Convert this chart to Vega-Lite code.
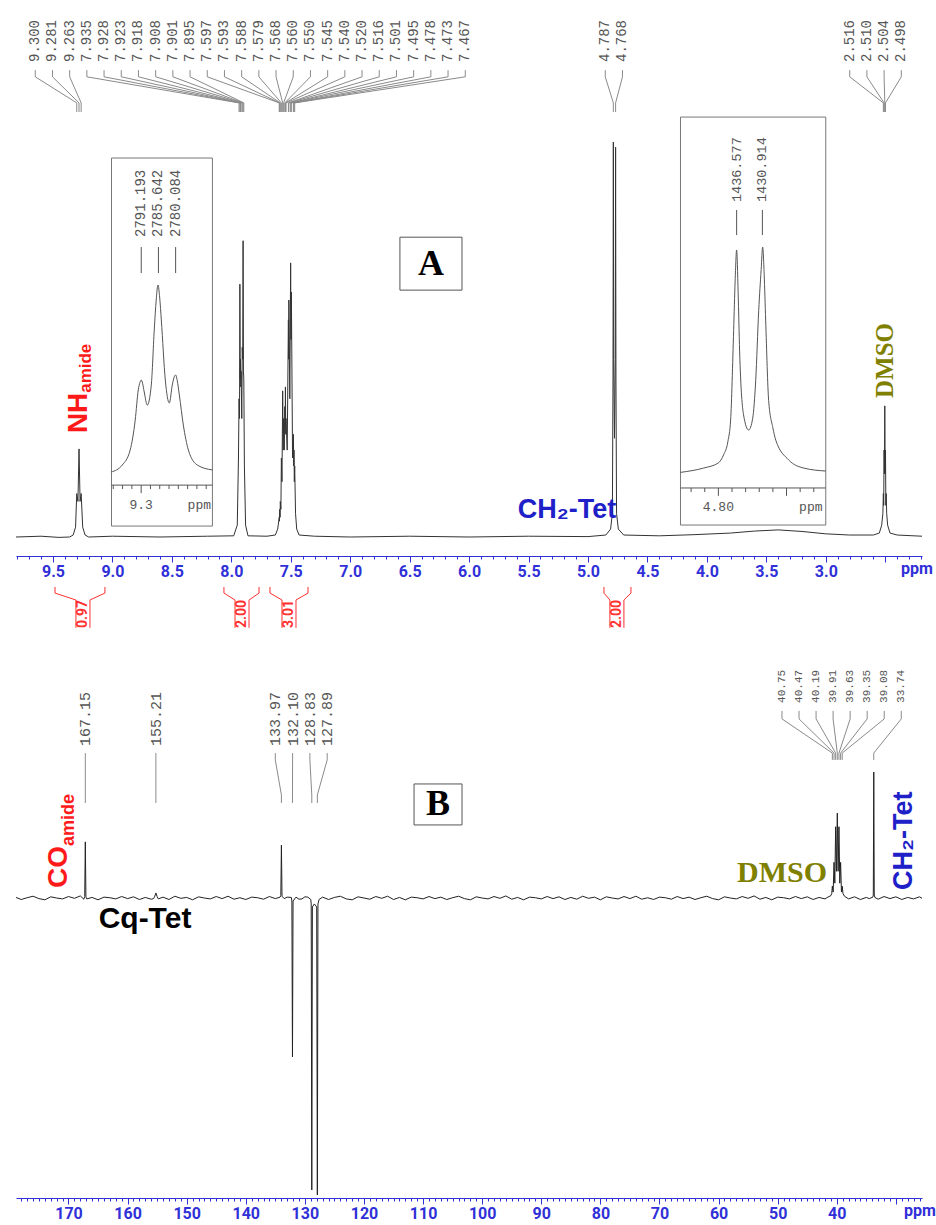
{
"$schema": "https://vega.github.io/schema/vega-lite/v6.json",
"padding": {"left": 14, "top": 0, "right": 16, "bottom": 0},
"background": "white",
"config": {"view": {"stroke": null}},
"spacing": 84,
"bounds": "flush",
"datasets": {
"specA": [
{"ppm":9.811,"i":0},{"ppm":9.6,"i":0.2},{"ppm":9.45,"i":-0.1},{"ppm":9.36,"i":0},{"ppm":9.33,"i":0.5},{"ppm":9.31,"i":2.5},{"ppm":9.300,"i":11},{"ppm":9.290,"i":9},{"ppm":9.281,"i":22.3},{"ppm":9.272,"i":9},{"ppm":9.263,"i":11},{"ppm":9.25,"i":2.5},{"ppm":9.23,"i":0.5},{"ppm":9.2,"i":0},{"ppm":9.0,"i":0.2},{"ppm":8.6,"i":0},{"ppm":8.2,"i":0.2},{"ppm":7.98,"i":0.3},{"ppm":7.95,"i":3},{"ppm":7.94,"i":20},{"ppm":7.935,"i":35},{"ppm":7.931,"i":30},{"ppm":7.928,"i":64},{"ppm":7.925,"i":40},{"ppm":7.923,"i":45},{"ppm":7.920,"i":38},{"ppm":7.918,"i":42},{"ppm":7.912,"i":30},{"ppm":7.908,"i":48},{"ppm":7.904,"i":45},{"ppm":7.901,"i":75},{"ppm":7.898,"i":42},{"ppm":7.895,"i":40},{"ppm":7.89,"i":18},{"ppm":7.88,"i":3},{"ppm":7.86,"i":0.3},{"ppm":7.7,"i":0.2},{"ppm":7.63,"i":0.5},{"ppm":7.61,"i":2},{"ppm":7.597,"i":5},{"ppm":7.595,"i":4},{"ppm":7.593,"i":7},{"ppm":7.590,"i":5},{"ppm":7.588,"i":9},{"ppm":7.583,"i":7},{"ppm":7.579,"i":20},{"ppm":7.574,"i":14},{"ppm":7.568,"i":37},{"ppm":7.564,"i":22},{"ppm":7.560,"i":30},{"ppm":7.555,"i":22},{"ppm":7.550,"i":33},{"ppm":7.547,"i":28},{"ppm":7.545,"i":38},{"ppm":7.542,"i":26},{"ppm":7.540,"i":30},{"ppm":7.530,"i":22},{"ppm":7.520,"i":55},{"ppm":7.518,"i":45},{"ppm":7.516,"i":60},{"ppm":7.508,"i":35},{"ppm":7.501,"i":69.4},{"ppm":7.498,"i":50},{"ppm":7.495,"i":62},{"ppm":7.485,"i":20},{"ppm":7.478,"i":26},{"ppm":7.475,"i":18},{"ppm":7.473,"i":22},{"ppm":7.470,"i":14},{"ppm":7.467,"i":18},{"ppm":7.46,"i":6},{"ppm":7.45,"i":2},{"ppm":7.43,"i":0.5},{"ppm":7.3,"i":0.2},{"ppm":7.0,"i":0},{"ppm":6.5,"i":0.2},{"ppm":6.0,"i":0},{"ppm":5.5,"i":0.2},{"ppm":5.0,"i":0.1},{"ppm":4.85,"i":0.5},{"ppm":4.81,"i":2},{"ppm":4.795,"i":6},{"ppm":4.790,"i":40},{"ppm":4.787,"i":100},{"ppm":4.784,"i":45},{"ppm":4.7775,"i":25},{"ppm":4.771,"i":45},{"ppm":4.768,"i":98.7},{"ppm":4.765,"i":40},{"ppm":4.760,"i":6},{"ppm":4.745,"i":2},{"ppm":4.7,"i":0.5},{"ppm":4.4,"i":0.3},{"ppm":4.1,"i":0.6},{"ppm":3.8,"i":1.0},{"ppm":3.6,"i":1.5},{"ppm":3.4,"i":1.8},{"ppm":3.2,"i":1.4},{"ppm":3.0,"i":0.8},{"ppm":2.8,"i":0.5},{"ppm":2.6,"i":0.5},{"ppm":2.55,"i":1},{"ppm":2.53,"i":3},{"ppm":2.520,"i":6},{"ppm":2.516,"i":11},{"ppm":2.513,"i":8},{"ppm":2.510,"i":22},{"ppm":2.507,"i":16},{"ppm":2.504,"i":33.2},{"ppm":2.501,"i":16},{"ppm":2.498,"i":22},{"ppm":2.495,"i":8},{"ppm":2.492,"i":11},{"ppm":2.488,"i":6},{"ppm":2.48,"i":3},{"ppm":2.46,"i":1},{"ppm":2.4,"i":0.5},{"ppm":2.191,"i":0.2}
],
"peaksA": [
{"ppm":9.300,"g":1},{"ppm":9.281,"g":1},{"ppm":9.263,"g":1},{"ppm":7.935,"g":1},{"ppm":7.928,"g":1},{"ppm":7.923,"g":1},{"ppm":7.918,"g":1},{"ppm":7.908,"g":1},{"ppm":7.901,"g":1},{"ppm":7.895,"g":1},{"ppm":7.597,"g":1},{"ppm":7.593,"g":1},{"ppm":7.588,"g":1},{"ppm":7.579,"g":1},{"ppm":7.568,"g":1},{"ppm":7.560,"g":1},{"ppm":7.550,"g":1},{"ppm":7.545,"g":1},{"ppm":7.540,"g":1},{"ppm":7.520,"g":1},{"ppm":7.516,"g":1},{"ppm":7.501,"g":1},{"ppm":7.495,"g":1},{"ppm":7.478,"g":1},{"ppm":7.473,"g":1},{"ppm":7.467,"g":1},
{"ppm":4.787,"g":2},{"ppm":4.768,"g":2},
{"ppm":2.516,"g":3},{"ppm":2.510,"g":3},{"ppm":2.504,"g":3},{"ppm":2.498,"g":3}
],
"intA": [
{"a":9.483,"b":9.063,"c":9.248,"v":"0.97"},
{"a":8.062,"b":7.767,"c":7.910,"v":"2.00"},
{"a":7.675,"b":7.355,"c":7.515,"v":"3.01"},
{"a":4.866,"b":4.639,"c":4.757,"v":"2.00"}
],
"insetL": [
{"ppm":9.3323,"i":0},{"ppm":9.3204,"i":3.7},{"ppm":9.3118,"i":11.8},{"ppm":9.3064,"i":27.8},{"ppm":9.3031,"i":43.9},{"ppm":9.3012,"i":48},{"ppm":9.2999,"i":49.2},{"ppm":9.2985,"i":47.5},{"ppm":9.2967,"i":42.8},{"ppm":9.2934,"i":35.8},{"ppm":9.2891,"i":46.5},{"ppm":9.2859,"i":75.9},{"ppm":9.2838,"i":92},{"ppm":9.2819,"i":100},{"ppm":9.2800,"i":93},{"ppm":9.2783,"i":81.3},{"ppm":9.2740,"i":49.2},{"ppm":9.2697,"i":36.9},{"ppm":9.2665,"i":46.5},{"ppm":9.2643,"i":51},{"ppm":9.2629,"i":51.9},{"ppm":9.2612,"i":49},{"ppm":9.2589,"i":41.2},{"ppm":9.2546,"i":25.1},{"ppm":9.2492,"i":11.8},{"ppm":9.2395,"i":3.7},{"ppm":9.2233,"i":1.1}
],
"insetR": [
{"ppm":4.8278,"i":0.3},{"ppm":4.8109,"i":2.2},{"ppm":4.800,"i":4.5},{"ppm":4.7962,"i":8},{"ppm":4.7930,"i":14},{"ppm":4.7910,"i":23.5},{"ppm":4.7888,"i":63},{"ppm":4.7877,"i":85},{"ppm":4.7866,"i":98.7},{"ppm":4.7855,"i":80},{"ppm":4.7844,"i":54},{"ppm":4.7815,"i":25.7},{"ppm":4.7778,"i":19},{"ppm":4.7748,"i":24.3},{"ppm":4.7726,"i":41},{"ppm":4.7704,"i":72},{"ppm":4.7686,"i":90},{"ppm":4.7675,"i":100},{"ppm":4.7664,"i":88},{"ppm":4.7653,"i":67.7},{"ppm":4.7631,"i":32},{"ppm":4.7600,"i":20},{"ppm":4.7579,"i":14.6},{"ppm":4.7484,"i":5.8},{"ppm":4.7373,"i":2.2},{"ppm":4.7212,"i":0.9}
],
"pkL": [{"hz":"2791.193","ppm":9.2999},{"hz":"2785.642","ppm":9.2814},{"hz":"2780.084","ppm":9.2629}],
"pkR": [{"hz":"1436.577","ppm":4.7866},{"hz":"1430.914","ppm":4.7677}],
"ticksL": [{"ppm":9.33,"major":false},{"ppm":9.32,"major":false},{"ppm":9.31,"major":false},{"ppm":9.30,"major":true},{"ppm":9.29,"major":false},{"ppm":9.28,"major":false},{"ppm":9.27,"major":false},{"ppm":9.26,"major":false},{"ppm":9.25,"major":false},{"ppm":9.24,"major":false},{"ppm":9.23,"major":false}],
"ticksR": [{"ppm":4.82,"major":false},{"ppm":4.81,"major":false},{"ppm":4.80,"major":true},{"ppm":4.79,"major":false},{"ppm":4.78,"major":false},{"ppm":4.77,"major":false},{"ppm":4.76,"major":false},{"ppm":4.75,"major":true},{"ppm":4.74,"major":false},{"ppm":4.73,"major":false}],
"specB": [
{"ppm":178.88,"i":0.2},{"ppm":178,"i":-0.5},{"ppm":177,"i":0.1},{"ppm":176,"i":0.6},{"ppm":175,"i":-0.2},{"ppm":174,"i":-0.6},{"ppm":173,"i":0.4},{"ppm":172,"i":0.0},{"ppm":171,"i":-0.3},{"ppm":170,"i":0.5},{"ppm":169,"i":-0.1},{"ppm":168,"i":0.7},{"ppm":167.4,"i":-0.4},{"ppm":167.25,"i":0.5},{"ppm":167.15,"i":18.9},{"ppm":167.05,"i":0.4},{"ppm":166.9,"i":-0.3},{"ppm":166,"i":0.2},{"ppm":165,"i":-0.6},{"ppm":164,"i":0.3},{"ppm":163,"i":0.1},{"ppm":162,"i":-0.3},{"ppm":161,"i":0.5},{"ppm":160,"i":-0.2},{"ppm":159,"i":0.4},{"ppm":158,"i":-0.5},{"ppm":157,"i":0.2},{"ppm":156,"i":-0.4},{"ppm":155.6,"i":-0.2},{"ppm":155.4,"i":0.6},{"ppm":155.21,"i":1.7},{"ppm":155.0,"i":0.5},{"ppm":154.8,"i":-0.3},{"ppm":154,"i":0.3},{"ppm":153,"i":-0.5},{"ppm":152,"i":0.6},{"ppm":151,"i":-0.1},{"ppm":150,"i":0.2},{"ppm":149,"i":-0.6},{"ppm":148,"i":0.4},{"ppm":147,"i":0.0},{"ppm":146,"i":-0.3},{"ppm":145,"i":0.5},{"ppm":144,"i":-0.2},{"ppm":143,"i":0.6},{"ppm":142,"i":-0.4},{"ppm":141,"i":0.1},{"ppm":140,"i":-0.5},{"ppm":139,"i":0.3},{"ppm":138,"i":0.1},{"ppm":137,"i":-0.4},{"ppm":136,"i":0.5},{"ppm":135,"i":-0.2},{"ppm":134.2,"i":0.3},{"ppm":134.07,"i":0.8},{"ppm":133.97,"i":17.8},{"ppm":133.87,"i":0.6},{"ppm":133.5,"i":-0.2},{"ppm":133,"i":0.3},{"ppm":132.3,"i":0.2},{"ppm":132.2,"i":-1},{"ppm":132.10,"i":-53.5},{"ppm":132.0,"i":-1},{"ppm":131.5,"i":0.3},{"ppm":131,"i":-0.4},{"ppm":130.5,"i":-0.3},{"ppm":130,"i":0.4},{"ppm":129.5,"i":0.3},{"ppm":129.0,"i":-0.5},{"ppm":128.93,"i":-2},{"ppm":128.83,"i":-98.3},{"ppm":128.73,"i":-3},{"ppm":128.4,"i":-2},{"ppm":128.0,"i":-3},{"ppm":127.89,"i":-100},{"ppm":127.79,"i":-2},{"ppm":127.6,"i":-0.5},{"ppm":127,"i":0.3},{"ppm":126,"i":-0.5},{"ppm":125,"i":0.2},{"ppm":124,"i":0.6},{"ppm":123,"i":-0.3},{"ppm":122,"i":-0.6},{"ppm":121,"i":0.4},{"ppm":120,"i":0.0},{"ppm":119,"i":-0.4},{"ppm":118,"i":0.5},{"ppm":117,"i":-0.1},{"ppm":116,"i":0.6},{"ppm":115,"i":-0.5},{"ppm":114,"i":0.2},{"ppm":113,"i":-0.6},{"ppm":112,"i":0.3},{"ppm":111,"i":0.1},{"ppm":110,"i":-0.3},{"ppm":109,"i":0.5},{"ppm":108,"i":-0.2},{"ppm":107,"i":0.3},{"ppm":106,"i":-0.5},{"ppm":105,"i":0.1},{"ppm":104,"i":0.6},{"ppm":103,"i":-0.2},{"ppm":102,"i":-0.6},{"ppm":101,"i":0.4},{"ppm":100,"i":0.0},{"ppm":99,"i":-0.3},{"ppm":98,"i":0.5},{"ppm":97,"i":-0.1},{"ppm":96,"i":0.7},{"ppm":95,"i":-0.4},{"ppm":94,"i":0.2},{"ppm":93,"i":-0.6},{"ppm":92,"i":0.3},{"ppm":91,"i":0.1},{"ppm":90,"i":-0.3},{"ppm":89,"i":0.5},{"ppm":88,"i":-0.2},{"ppm":87,"i":0.4},{"ppm":86,"i":-0.5},{"ppm":85,"i":0.2},{"ppm":84,"i":-0.4},{"ppm":83,"i":0.6},{"ppm":82,"i":-0.1},{"ppm":81,"i":0.3},{"ppm":80,"i":-0.6},{"ppm":79,"i":0.4},{"ppm":78,"i":0.0},{"ppm":77,"i":-0.3},{"ppm":76,"i":0.5},{"ppm":75,"i":-0.2},{"ppm":74,"i":0.6},{"ppm":73,"i":-0.4},{"ppm":72,"i":0.1},{"ppm":71,"i":-0.5},{"ppm":70,"i":0.3},{"ppm":69,"i":0.1},{"ppm":68,"i":-0.4},{"ppm":67,"i":0.5},{"ppm":66,"i":-0.2},{"ppm":65,"i":0.3},{"ppm":64,"i":-0.5},{"ppm":63,"i":0.1},{"ppm":62,"i":0.6},{"ppm":61,"i":-0.2},{"ppm":60,"i":-0.6},{"ppm":59,"i":0.4},{"ppm":58,"i":0.0},{"ppm":57,"i":-0.3},{"ppm":56,"i":0.5},{"ppm":55,"i":-0.1},{"ppm":54,"i":0.7},{"ppm":53,"i":-0.4},{"ppm":52,"i":0.2},{"ppm":51,"i":-0.6},{"ppm":50,"i":0.3},{"ppm":49,"i":0.1},{"ppm":48,"i":-0.3},{"ppm":47,"i":0.5},{"ppm":46,"i":-0.2},{"ppm":45,"i":0.4},{"ppm":44,"i":-0.5},{"ppm":43,"i":0.2},{"ppm":42,"i":-0.3},{"ppm":41.5,"i":0.3},{"ppm":41.0,"i":0.8},{"ppm":40.85,"i":1.5},{"ppm":40.75,"i":4},{"ppm":40.61,"i":2},{"ppm":40.47,"i":12},{"ppm":40.33,"i":5},{"ppm":40.19,"i":24},{"ppm":40.05,"i":9},{"ppm":39.91,"i":28.6},{"ppm":39.77,"i":9},{"ppm":39.63,"i":24},{"ppm":39.49,"i":5},{"ppm":39.35,"i":12},{"ppm":39.21,"i":2},{"ppm":39.08,"i":4},{"ppm":38.95,"i":1.5},{"ppm":38.7,"i":0.6},{"ppm":38,"i":-0.3},{"ppm":37,"i":0.4},{"ppm":36,"i":-0.5},{"ppm":35,"i":0.2},{"ppm":34.5,"i":-0.2},{"ppm":33.9,"i":0.3},{"ppm":33.82,"i":1},{"ppm":33.74,"i":42.4},{"ppm":33.66,"i":1},{"ppm":33.55,"i":0.2},{"ppm":33,"i":-0.4},{"ppm":32,"i":0.5},{"ppm":31,"i":-0.2},{"ppm":30,"i":0.4},{"ppm":29,"i":-0.5},{"ppm":28,"i":0.2},{"ppm":27,"i":-0.3},{"ppm":26,"i":0.4},{"ppm":25.58,"i":-0.1}
],
"peaksB": [
{"ppm":167.15,"g":4},{"ppm":155.21,"g":5},
{"ppm":133.97,"g":6},{"ppm":132.10,"g":6},{"ppm":128.83,"g":6},{"ppm":127.89,"g":6},
{"ppm":40.75,"g":7},{"ppm":40.47,"g":7},{"ppm":40.19,"g":7},{"ppm":39.91,"g":7},{"ppm":39.63,"g":7},{"ppm":39.35,"g":7},{"ppm":39.08,"g":7},{"ppm":33.74,"g":7}
]
},
"vconcat": [
{
"width": 906, "height": 556,
"resolve": {"scale": {"x": "independent", "y": "independent"}, "axis": {"x": "independent", "y": "independent"}},
"layer": [
{
"layer": [
{"data": {"name": "specA"}, "mark": {"type": "line", "stroke": "#333333", "strokeWidth": 1},
 "encoding": {
  "x": {"field": "ppm", "type": "quantitative", "scale": {"domain": [2.191, 9.811], "reverse": true, "nice": false, "zero": false},
   "axis": {"orient": "bottom", "values": [9.5,9,8.5,8,7.5,7,6.5,6,5.5,5,4.5,4,3.5,3,2.5], "labelExpr": "datum.value < 2.75 ? '' : format(datum.value, '.1f')", "title": null, "grid": false, "domainColor": "#3030d8", "tickColor": "#3030d8", "tickSize": 6, "labelColor": "#3030d8", "labelFont": "Liberation Sans Narrow, Roboto, sans-serif", "labelFontSize": 16, "labelFontWeight": "bold", "labelPadding": 1, "labelFlush": false, "labelOverlap": false}},
  "y": {"field": "i", "type": "quantitative", "scale": {"domain": [-4.81, 135.95], "nice": false, "zero": false}, "axis": null}
 }},
{"data": {"name": "peaksA"},
 "transform": [
  {"window": [{"op": "row_number", "as": "rn"}], "groupby": ["g"], "sort": [{"field": "ppm", "order": "descending"}]},
  {"calculate": "(datum.g == 1 ? 9.649 : datum.g == 2 ? 4.855 : 2.799) - (datum.rn - 1) * 0.14466", "as": "lx"},
  {"calculate": "118.2", "as": "l1"}, {"calculate": "116.5", "as": "l2"}, {"calculate": "109.9", "as": "l3"}, {"calculate": "107.6", "as": "l4"}, {"calculate": "120.25", "as": "t0"}
 ],
 "layer": [
  {"mark": {"type": "rule", "stroke": "#8a8a8a", "strokeWidth": 1},
   "encoding": {"x": {"field": "lx", "type": "quantitative"}, "y": {"field": "l1", "type": "quantitative", "axis": null}, "y2": {"field": "l2"}}},
  {"mark": {"type": "rule", "stroke": "#8a8a8a", "strokeWidth": 1},
   "encoding": {"x": {"field": "lx", "type": "quantitative"}, "x2": {"field": "ppm"}, "y": {"field": "l2", "type": "quantitative", "axis": null}, "y2": {"field": "l3"}}},
  {"mark": {"type": "rule", "stroke": "#8a8a8a", "strokeWidth": 1},
   "encoding": {"x": {"field": "ppm", "type": "quantitative"}, "y": {"field": "l3", "type": "quantitative", "axis": null}, "y2": {"field": "l4"}}},
  {"mark": {"type": "text", "angle": 270, "align": "left", "baseline": "middle", "font": "Liberation Mono", "fontSize": 14, "color": "#555555"},
   "encoding": {"x": {"field": "lx", "type": "quantitative"}, "y": {"field": "t0", "type": "quantitative", "axis": null},
    "text": {"field": "ppm", "type": "quantitative", "format": ".3f"}}}
 ]},
{"data": {"name": "intA"},
 "transform": [{"calculate": "datum.c + 0.0589", "as": "cl"}, {"calculate": "datum.c - 0.0589", "as": "cr"},
  {"calculate": "-12.66", "as": "y1"}, {"calculate": "-14.2", "as": "y2"}, {"calculate": "-15.95", "as": "y3"}, {"calculate": "-23.0", "as": "y4"}, {"calculate": "-19.5", "as": "ty"}],
 "layer": [
  {"mark": {"type": "rule", "stroke": "#ff3030", "strokeWidth": 1},
   "encoding": {"x": {"field": "a", "type": "quantitative"}, "y": {"field": "y1", "type": "quantitative", "axis": null}, "y2": {"field": "y2"}}},
  {"mark": {"type": "rule", "stroke": "#ff3030", "strokeWidth": 1},
   "encoding": {"x": {"field": "b", "type": "quantitative"}, "y": {"field": "y1", "type": "quantitative", "axis": null}, "y2": {"field": "y2"}}},
  {"mark": {"type": "rule", "stroke": "#ff3030", "strokeWidth": 1},
   "encoding": {"x": {"field": "a", "type": "quantitative"}, "x2": {"field": "cl"}, "y": {"field": "y2", "type": "quantitative", "axis": null}, "y2": {"field": "y3"}}},
  {"mark": {"type": "rule", "stroke": "#ff3030", "strokeWidth": 1},
   "encoding": {"x": {"field": "b", "type": "quantitative"}, "x2": {"field": "cr"}, "y": {"field": "y2", "type": "quantitative", "axis": null}, "y2": {"field": "y3"}}},
  {"mark": {"type": "rule", "stroke": "#ff3030", "strokeWidth": 1},
   "encoding": {"x": {"field": "cl", "type": "quantitative"}, "y": {"field": "y3", "type": "quantitative", "axis": null}, "y2": {"field": "y4"}}},
  {"mark": {"type": "rule", "stroke": "#ff3030", "strokeWidth": 1},
   "encoding": {"x": {"field": "cr", "type": "quantitative"}, "y": {"field": "y3", "type": "quantitative", "axis": null}, "y2": {"field": "y4"}}},
  {"mark": {"type": "text", "angle": 270, "align": "center", "baseline": "middle", "font": "Liberation Sans Narrow, Roboto, sans-serif", "fontSize": 14, "fontWeight": "bold", "color": "#ff3030"},
   "encoding": {"x": {"field": "c", "type": "quantitative"}, "y": {"field": "ty", "type": "quantitative", "axis": null}, "text": {"field": "v"}}}
 ]},
{"data": {"values": [{"t": "NH"}]}, "transform": [{"calculate": "9.281", "as": "px"}, {"calculate": "26.3", "as": "py"}],
 "mark": {"type": "text", "angle": 270, "align": "left", "baseline": "middle", "font": "Liberation Sans", "fontSize": 28, "fontWeight": "bold", "color": "#ff1a1a"},
 "encoding": {"text": {"field": "t"}, "x": {"field": "px", "type": "quantitative"}, "y": {"field": "py", "type": "quantitative", "axis": null}}},
{"data": {"values": [{"t": "amide"}]}, "transform": [{"calculate": "9.222", "as": "px"}, {"calculate": "36.5", "as": "py"}],
 "mark": {"type": "text", "angle": 270, "align": "left", "baseline": "middle", "font": "Liberation Sans", "fontSize": 17, "fontWeight": "bold", "color": "#ff1a1a"},
 "encoding": {"text": {"field": "t"}, "x": {"field": "px", "type": "quantitative"}, "y": {"field": "py", "type": "quantitative", "axis": null}}},
{"data": {"values": [{"t": "CH₂-Tet"}]}, "transform": [{"calculate": "5.177", "as": "px"}, {"calculate": "6.8", "as": "py"}],
 "mark": {"type": "text", "align": "center", "baseline": "middle", "font": "Liberation Sans", "fontSize": 27, "fontWeight": "bold", "color": "#2020c8"},
 "encoding": {"text": {"field": "t"}, "x": {"field": "px", "type": "quantitative"}, "y": {"field": "py", "type": "quantitative", "axis": null}}},
{"data": {"values": [{"t": "DMSO"}]}, "transform": [{"calculate": "2.505", "as": "px"}, {"calculate": "35.2", "as": "py"}],
 "mark": {"type": "text", "angle": 270, "align": "left", "baseline": "middle", "font": "Liberation Serif", "fontSize": 25, "fontWeight": "bold", "color": "#808000"},
 "encoding": {"text": {"field": "t"}, "x": {"field": "px", "type": "quantitative"}, "y": {"field": "py", "type": "quantitative", "axis": null}}},
{"data": {"values": [{"t": "A"}]}, "transform": [{"calculate": "6.582", "as": "px"}, {"calculate": "6.060", "as": "px2"}, {"calculate": "75.9", "as": "py"}, {"calculate": "62.5", "as": "py2"}],
 "mark": {"type": "rect", "fill": "white", "stroke": "#555555", "strokeWidth": 1},
 "encoding": {"x": {"field": "px", "type": "quantitative"}, "x2": {"field": "px2"}, "y": {"field": "py", "type": "quantitative", "axis": null}, "y2": {"field": "py2"}}},
{"data": {"values": [{"t": "A"}]}, "transform": [{"calculate": "6.321", "as": "px"}, {"calculate": "69.2", "as": "py"}],
 "mark": {"type": "text", "align": "center", "baseline": "middle", "font": "Liberation Serif", "fontSize": 36, "fontWeight": "bold", "color": "#000000"},
 "encoding": {"text": {"field": "t"}, "x": {"field": "px", "type": "quantitative"}, "y": {"field": "py", "type": "quantitative", "axis": null}}}
]
},
{"data": {"values": [{"t": "ppm"}]}, "transform": [{"calculate": "2.233", "as": "px"}, {"calculate": "-8.0", "as": "py"}],
 "mark": {"type": "text", "font": "Liberation Sans Narrow, Roboto, sans-serif", "fontSize": 16, "fontWeight": "bold", "color": "#3030d8", "baseline": "middle", "align": "center"},
 "encoding": {
  "text": {"field": "t"},
  "x": {"field": "px", "type": "quantitative", "scale": {"domain": [2.191, 9.811], "reverse": true, "nice": false, "zero": false},
   "axis": {"orient": "bottom", "values": [9.8,9.7,9.6,9.5,9.4,9.3,9.2,9.1,9.0,8.9,8.8,8.7,8.6,8.5,8.4,8.3,8.2,8.1,8.0,7.9,7.8,7.7,7.6,7.5,7.4,7.3,7.2,7.1,7.0,6.9,6.8,6.7,6.6,6.5,6.4,6.3,6.2,6.1,6.0,5.9,5.8,5.7,5.6,5.5,5.4,5.3,5.2,5.1,5.0,4.9,4.8,4.7,4.6,4.5,4.4,4.3,4.2,4.1,4.0,3.9,3.8,3.7,3.6,3.5,3.4,3.3,3.2,3.1,3.0,2.9,2.8,2.7,2.6,2.5,2.4,2.3,2.2], "labels": false, "domain": false, "tickColor": "#3030d8", "tickSize": 3, "grid": false, "title": null}},
  "y": {"field": "py", "type": "quantitative", "scale": {"domain": [-4.81, 135.95], "nice": false, "zero": false}, "axis": null}
 }},
{
"layer": [
{"data": {"values": [{"t": "inset"}]}, "transform": [{"calculate": "9.3319", "as": "px"}, {"calculate": "9.2233", "as": "px2"}, {"calculate": "167.9", "as": "py"}, {"calculate": "-28.9", "as": "py2"}],
 "mark": {"type": "rect", "fill": "transparent", "stroke": "#777777", "strokeWidth": 1},
 "encoding": {"x": {"field": "px", "type": "quantitative", "scale": {"domain": [8.4596, 9.4347], "reverse": true, "nice": false, "zero": false}, "axis": null}, "x2": {"field": "px2"},
  "y": {"field": "py", "type": "quantitative", "scale": {"domain": [-44.9, 252.4], "nice": false, "zero": false}, "axis": null}, "y2": {"field": "py2"}}},
{"data": {"name": "insetL"}, "mark": {"type": "line", "stroke": "#555555", "strokeWidth": 1, "interpolate": "monotone"},
 "encoding": {"x": {"field": "ppm", "type": "quantitative", "axis": null}, "y": {"field": "i", "type": "quantitative", "axis": null}}},
{"data": {"values": [{"t": "axis"}]}, "transform": [{"calculate": "9.3319", "as": "px"}, {"calculate": "9.2233", "as": "px2"}, {"calculate": "-7.0", "as": "py"}],
 "mark": {"type": "rule", "stroke": "#555555", "strokeWidth": 1},
 "encoding": {"x": {"field": "px", "type": "quantitative", "axis": null}, "x2": {"field": "px2"}, "y": {"field": "py", "type": "quantitative", "axis": null}}},
{"data": {"name": "ticksL"}, "transform": [{"calculate": "-7.0", "as": "py"}, {"calculate": "datum.major ? -11.3 : -9.1", "as": "te"}],
 "mark": {"type": "rule", "stroke": "#555555", "strokeWidth": 1},
 "encoding": {"x": {"field": "ppm", "type": "quantitative", "axis": null}, "y": {"field": "py", "type": "quantitative", "axis": null}, "y2": {"field": "te"}}},
{"data": {"values": [{"t": "9.3"}]}, "transform": [{"calculate": "9.3", "as": "px"}, {"calculate": "-17.6", "as": "py"}],
 "mark": {"type": "text", "align": "center", "baseline": "middle", "font": "Liberation Mono", "fontSize": 13, "color": "#555555"},
 "encoding": {"text": {"field": "t"}, "x": {"field": "px", "type": "quantitative", "axis": null}, "y": {"field": "py", "type": "quantitative", "axis": null}}},
{"data": {"values": [{"t": "ppm"}]}, "transform": [{"calculate": "9.2374", "as": "px"}, {"calculate": "-17.6", "as": "py"}],
 "mark": {"type": "text", "align": "center", "baseline": "middle", "font": "Liberation Mono", "fontSize": 13, "color": "#555555"},
 "encoding": {"text": {"field": "t"}, "x": {"field": "px", "type": "quantitative", "axis": null}, "y": {"field": "py", "type": "quantitative", "axis": null}}},
{"data": {"name": "pkL"}, "transform": [{"calculate": "120.3", "as": "r1"}, {"calculate": "106.4", "as": "r2"}, {"calculate": "125.7", "as": "t0"}],
 "layer": [
  {"mark": {"type": "rule", "stroke": "#555555", "strokeWidth": 1},
   "encoding": {"x": {"field": "ppm", "type": "quantitative", "axis": null}, "y": {"field": "r1", "type": "quantitative", "axis": null}, "y2": {"field": "r2"}}},
  {"mark": {"type": "text", "angle": 270, "align": "left", "baseline": "middle", "font": "Liberation Mono", "fontSize": 14, "color": "#555555"},
   "encoding": {"x": {"field": "ppm", "type": "quantitative", "axis": null}, "y": {"field": "t0", "type": "quantitative", "axis": null}, "text": {"field": "hz"}}}
 ]}
]
},
{
"layer": [
{"data": {"values": [{"t": "inset"}]}, "transform": [{"calculate": "4.8278", "as": "px"}, {"calculate": "4.7212", "as": "px2"}, {"calculate": "157.5", "as": "py"}, {"calculate": "-23.0", "as": "py2"}],
 "mark": {"type": "rect", "fill": "transparent", "stroke": "#777777", "strokeWidth": 1},
 "encoding": {"x": {"field": "px", "type": "quantitative", "scale": {"domain": [4.6506, 5.3153], "reverse": true, "nice": false, "zero": false}, "axis": null}, "x2": {"field": "px2"},
  "y": {"field": "py", "type": "quantitative", "scale": {"domain": [-36.7, 209.3], "nice": false, "zero": false}, "axis": null}, "y2": {"field": "py2"}}},
{"data": {"name": "insetR"}, "mark": {"type": "line", "stroke": "#555555", "strokeWidth": 1, "interpolate": "monotone"},
 "encoding": {"x": {"field": "ppm", "type": "quantitative", "axis": null}, "y": {"field": "i", "type": "quantitative", "axis": null}}},
{"data": {"values": [{"t": "axis"}]}, "transform": [{"calculate": "4.8278", "as": "px"}, {"calculate": "4.7212", "as": "px2"}, {"calculate": "-6.6", "as": "py"}],
 "mark": {"type": "rule", "stroke": "#555555", "strokeWidth": 1},
 "encoding": {"x": {"field": "px", "type": "quantitative", "axis": null}, "x2": {"field": "px2"}, "y": {"field": "py", "type": "quantitative", "axis": null}}},
{"data": {"name": "ticksR"}, "transform": [{"calculate": "-6.6", "as": "py"}, {"calculate": "datum.major ? -10.1 : -8.4", "as": "te"}],
 "mark": {"type": "rule", "stroke": "#555555", "strokeWidth": 1},
 "encoding": {"x": {"field": "ppm", "type": "quantitative", "axis": null}, "y": {"field": "py", "type": "quantitative", "axis": null}, "y2": {"field": "te"}}},
{"data": {"values": [{"t": "4.80"}]}, "transform": [{"calculate": "4.80", "as": "px"}, {"calculate": "-15.0", "as": "py"}],
 "mark": {"type": "text", "align": "center", "baseline": "middle", "font": "Liberation Mono", "fontSize": 13, "color": "#555555"},
 "encoding": {"text": {"field": "t"}, "x": {"field": "px", "type": "quantitative", "axis": null}, "y": {"field": "py", "type": "quantitative", "axis": null}}},
{"data": {"values": [{"t": "ppm"}]}, "transform": [{"calculate": "4.7322", "as": "px"}, {"calculate": "-15.0", "as": "py"}],
 "mark": {"type": "text", "align": "center", "baseline": "middle", "font": "Liberation Mono", "fontSize": 13, "color": "#555555"},
 "encoding": {"text": {"field": "t"}, "x": {"field": "px", "type": "quantitative", "axis": null}, "y": {"field": "py", "type": "quantitative", "axis": null}}},
{"data": {"name": "pkR"}, "transform": [{"calculate": "116.4", "as": "r1"}, {"calculate": "105.3", "as": "r2"}, {"calculate": "119.9", "as": "t0"}],
 "layer": [
  {"mark": {"type": "rule", "stroke": "#555555", "strokeWidth": 1},
   "encoding": {"x": {"field": "ppm", "type": "quantitative", "axis": null}, "y": {"field": "r1", "type": "quantitative", "axis": null}, "y2": {"field": "r2"}}},
  {"mark": {"type": "text", "angle": 270, "align": "left", "baseline": "middle", "font": "Liberation Mono", "fontSize": 13.5, "color": "#555555"},
   "encoding": {"x": {"field": "ppm", "type": "quantitative", "axis": null}, "y": {"field": "t0", "type": "quantitative", "axis": null}, "text": {"field": "hz"}}}
 ]}
]
}
]
},
{
"width": 906, "height": 558,
"resolve": {"axis": {"x": "independent"}},
"layer": [
{
"layer": [
{"data": {"name": "specB"}, "mark": {"type": "line", "stroke": "#222222", "strokeWidth": 1},
 "encoding": {
  "x": {"field": "ppm", "type": "quantitative", "scale": {"domain": [25.58, 178.88], "reverse": true, "nice": false, "zero": false},
   "axis": {"orient": "bottom", "values": [170,160,150,140,130,120,110,100,90,80,70,60,50,40,30], "labelExpr": "datum.value < 35 ? '' : format(datum.value, 'd')", "title": null, "grid": false, "domainColor": "#3030d8", "tickColor": "#3030d8", "tickSize": 6, "labelColor": "#3030d8", "labelFont": "Liberation Sans Narrow, Roboto, sans-serif", "labelFontSize": 16, "labelFontWeight": "bold", "labelPadding": 1, "labelFlush": false, "labelOverlap": false}},
  "y": {"field": "i", "type": "quantitative", "scale": {"domain": [-101.0, 86.87], "nice": false, "zero": false}, "axis": null}
 }},
{"data": {"name": "peaksB"},
 "transform": [
  {"window": [{"op": "row_number", "as": "rn"}], "groupby": ["g"], "sort": [{"field": "ppm", "order": "descending"}]},
  {"calculate": "datum.g == 6 ? 135.007 - (datum.rn - 1) * 2.927 : datum.g == 7 ? 49.27 - (datum.rn - 1) * 2.883 : datum.ppm", "as": "lx"},
  {"calculate": "datum.g == 7 ? 65.7 : 51.2", "as": "t0"},
  {"calculate": "datum.g == 7 ? 63.0 : 48.8", "as": "l1"},
  {"calculate": "datum.g == 7 ? 60.3 : 46.5", "as": "l2"},
  {"calculate": "datum.g == 7 ? 48.8 : 34.7", "as": "l3"},
  {"calculate": "datum.g == 7 ? 46.5 : 32.0", "as": "l4"}
 ],
 "layer": [
  {"mark": {"type": "rule", "stroke": "#8a8a8a", "strokeWidth": 1},
   "encoding": {"x": {"field": "lx", "type": "quantitative"}, "y": {"field": "l1", "type": "quantitative", "axis": null}, "y2": {"field": "l2"}}},
  {"mark": {"type": "rule", "stroke": "#8a8a8a", "strokeWidth": 1},
   "encoding": {"x": {"field": "lx", "type": "quantitative"}, "x2": {"field": "ppm"}, "y": {"field": "l2", "type": "quantitative", "axis": null}, "y2": {"field": "l3"}}},
  {"mark": {"type": "rule", "stroke": "#8a8a8a", "strokeWidth": 1},
   "encoding": {"x": {"field": "ppm", "type": "quantitative"}, "y": {"field": "l3", "type": "quantitative", "axis": null}, "y2": {"field": "l4"}}},
  {"transform": [{"filter": "datum.g != 7"}],
   "mark": {"type": "text", "angle": 270, "align": "left", "baseline": "middle", "font": "Liberation Mono", "fontSize": 15, "color": "#555555"},
   "encoding": {"x": {"field": "lx", "type": "quantitative"}, "y": {"field": "t0", "type": "quantitative", "axis": null},
    "text": {"field": "ppm", "type": "quantitative", "format": ".2f"}}},
  {"transform": [{"filter": "datum.g == 7"}],
   "mark": {"type": "text", "angle": 270, "align": "left", "baseline": "middle", "font": "Liberation Mono", "fontSize": 11, "color": "#555555"},
   "encoding": {"x": {"field": "lx", "type": "quantitative"}, "y": {"field": "t0", "type": "quantitative", "axis": null},
    "text": {"field": "ppm", "type": "quantitative", "format": ".2f"}}}
 ]},
{"data": {"values": [{"t": "CO"}]}, "transform": [{"calculate": "171.6", "as": "px"}, {"calculate": "3.4", "as": "py"}],
 "mark": {"type": "text", "angle": 270, "align": "left", "baseline": "middle", "font": "Liberation Sans", "fontSize": 28, "fontWeight": "bold", "color": "#ff1a1a"},
 "encoding": {"text": {"field": "t"}, "x": {"field": "px", "type": "quantitative"}, "y": {"field": "py", "type": "quantitative", "axis": null}}},
{"data": {"values": [{"t": "amide"}]}, "transform": [{"calculate": "169.9", "as": "px"}, {"calculate": "17.5", "as": "py"}],
 "mark": {"type": "text", "angle": 270, "align": "left", "baseline": "middle", "font": "Liberation Sans", "fontSize": 18, "fontWeight": "bold", "color": "#ff1a1a"},
 "encoding": {"text": {"field": "t"}, "x": {"field": "px", "type": "quantitative"}, "y": {"field": "py", "type": "quantitative", "axis": null}}},
{"data": {"values": [{"t": "Cq-Tet"}]}, "transform": [{"calculate": "157.05", "as": "px"}, {"calculate": "-7.0", "as": "py"}],
 "mark": {"type": "text", "align": "center", "baseline": "middle", "font": "Liberation Sans", "fontSize": 30, "fontWeight": "bold", "color": "#000000"},
 "encoding": {"text": {"field": "t"}, "x": {"field": "px", "type": "quantitative"}, "y": {"field": "py", "type": "quantitative", "axis": null}}},
{"data": {"values": [{"t": "B"}]}, "transform": [{"calculate": "111.53", "as": "px"}, {"calculate": "103.41", "as": "px2"}, {"calculate": "38.4", "as": "py"}, {"calculate": "24.6", "as": "py2"}],
 "mark": {"type": "rect", "fill": "white", "stroke": "#555555", "strokeWidth": 1},
 "encoding": {"x": {"field": "px", "type": "quantitative"}, "x2": {"field": "px2"}, "y": {"field": "py", "type": "quantitative", "axis": null}, "y2": {"field": "py2"}}},
{"data": {"values": [{"t": "B"}]}, "transform": [{"calculate": "107.47", "as": "px"}, {"calculate": "31.5", "as": "py"}],
 "mark": {"type": "text", "align": "center", "baseline": "middle", "font": "Liberation Serif", "fontSize": 36, "fontWeight": "bold", "color": "#000000"},
 "encoding": {"text": {"field": "t"}, "x": {"field": "px", "type": "quantitative"}, "y": {"field": "py", "type": "quantitative", "axis": null}}},
{"data": {"values": [{"t": "DMSO"}]}, "transform": [{"calculate": "49.27", "as": "px"}, {"calculate": "8.4", "as": "py"}],
 "mark": {"type": "text", "align": "center", "baseline": "middle", "font": "Liberation Serif", "fontSize": 30, "fontWeight": "bold", "color": "#808000"},
 "encoding": {"text": {"field": "t"}, "x": {"field": "px", "type": "quantitative"}, "y": {"field": "py", "type": "quantitative", "axis": null}}},
{"data": {"values": [{"t": "CH₂-Tet"}]}, "transform": [{"calculate": "28.71", "as": "px"}, {"calculate": "2.7", "as": "py"}],
 "mark": {"type": "text", "angle": 270, "align": "left", "baseline": "middle", "font": "Liberation Sans", "fontSize": 27, "fontWeight": "bold", "color": "#2020c8"},
 "encoding": {"text": {"field": "t"}, "x": {"field": "px", "type": "quantitative"}, "y": {"field": "py", "type": "quantitative", "axis": null}}}
]
},
{"data": {"values": [{"t": "ppm"}]}, "transform": [{"calculate": "25.92", "as": "px"}, {"calculate": "-105.3", "as": "py"}],
 "mark": {"type": "text", "font": "Liberation Sans Narrow, Roboto, sans-serif", "fontSize": 16, "fontWeight": "bold", "color": "#3030d8", "baseline": "middle", "align": "center"},
 "encoding": {
  "text": {"field": "t"},
  "x": {"field": "px", "type": "quantitative", "scale": {"domain": [25.58, 178.88], "reverse": true, "nice": false, "zero": false},
   "axis": {"orient": "bottom", "values": [178,177,176,175,174,173,172,171,170,169,168,167,166,165,164,163,162,161,160,159,158,157,156,155,154,153,152,151,150,149,148,147,146,145,144,143,142,141,140,139,138,137,136,135,134,133,132,131,130,129,128,127,126,125,124,123,122,121,120,119,118,117,116,115,114,113,112,111,110,109,108,107,106,105,104,103,102,101,100,99,98,97,96,95,94,93,92,91,90,89,88,87,86,85,84,83,82,81,80,79,78,77,76,75,74,73,72,71,70,69,68,67,66,65,64,63,62,61,60,59,58,57,56,55,54,53,52,51,50,49,48,47,46,45,44,43,42,41,40,39,38,37,36,35,34,33,32,31,30,29,28,27,26], "labels": false, "domain": false, "tickColor": "#3030d8", "tickSize": 3, "grid": false, "title": null}},
  "y": {"field": "py", "type": "quantitative", "scale": {"domain": [-101.0, 86.87], "nice": false, "zero": false}, "axis": null}
 }}
]
}
]
}
